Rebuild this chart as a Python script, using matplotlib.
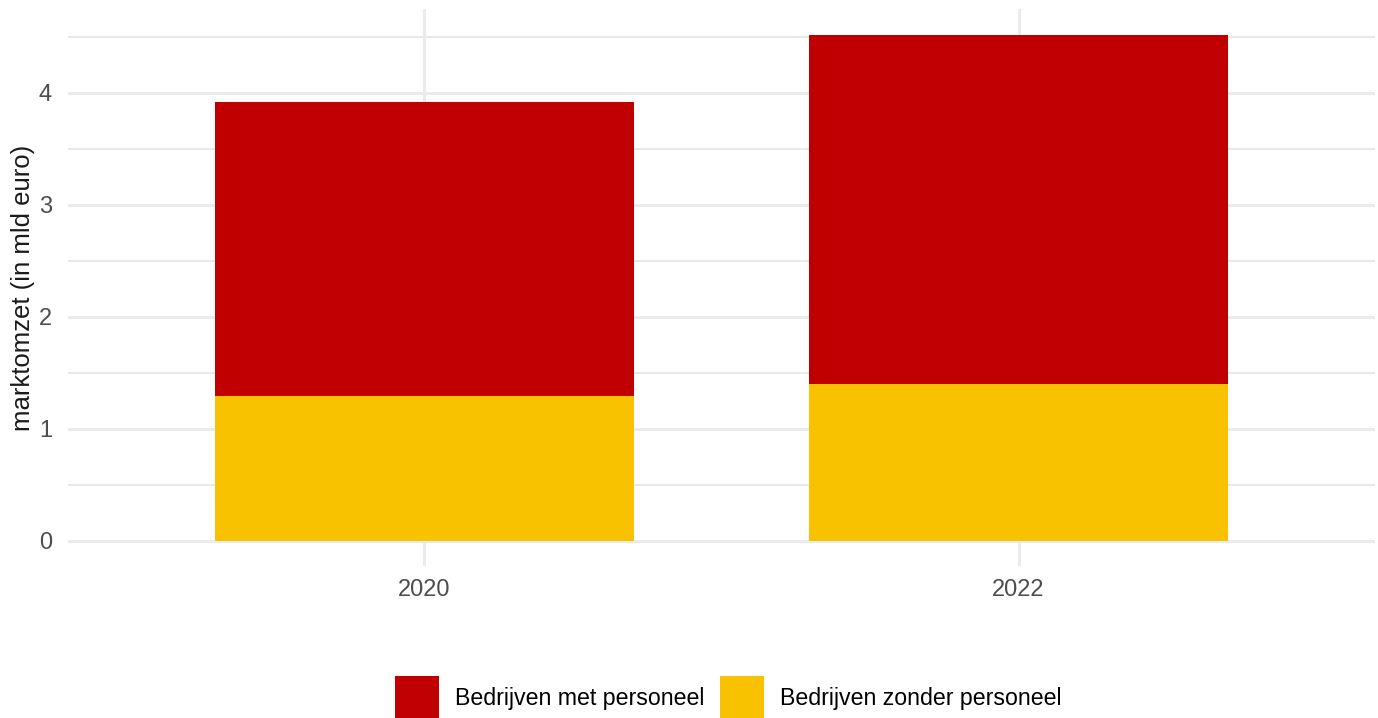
import matplotlib
matplotlib.use("Agg")
import matplotlib.pyplot as plt
from matplotlib.patches import Patch
import numpy as np

years = ["2020", "2022"]
met_personeel = [2.625, 3.12]
zonder_personeel = [1.295, 1.40]
series_labels = ["Bedrijven met personeel", "Bedrijven zonder personeel"]
y_ticks = [0, 1, 2, 3, 4]

RED = "#C00000"
YELLOW = "#F8C200"

plt.rcParams["font.family"] = ["Liberation Sans", "DejaVu Sans"]

W, H = 1378, 718
fig = plt.figure(figsize=(W / 100, H / 100), dpi=100)

ax_left, ax_right = 68, 1375
top_px, bot_px = 9.4, 566.3
ax = fig.add_axes([ax_left / W, (H - bot_px) / H, (ax_right - ax_left) / W, (bot_px - top_px) / H])

x = np.arange(1, len(years) + 1)
ax.bar(x, zonder_personeel, width=0.705, color=YELLOW, zorder=3)
ax.bar(x, met_personeel, width=0.705, bottom=zonder_personeel, color=RED, zorder=3)

total_max = max(a + b for a, b in zip(met_personeel, zonder_personeel))
pad = 0.05 * total_max
ax.set_ylim(-pad, total_max + pad)
ax.set_xlim(0.4, len(years) + 0.6)

ax.set_xticks(x)
ax.set_xticklabels(years)
ax.set_yticks(y_ticks)

for v in y_ticks:
    ax.axhline(v, color="#EBEBEB", lw=2.2, zorder=1)
for v in y_ticks:
    ax.axhline(v + 0.5, color="#E2E2E2", lw=1.1, zorder=1)
for xv in x:
    ax.axvline(xv, color="#EBEBEB", lw=2.2, zorder=1)

for s in ax.spines.values():
    s.set_visible(False)
ax.tick_params(axis="both", which="both", length=0, labelsize=17, colors="#4D4D4D")
ax.tick_params(axis="x", pad=9)
ax.tick_params(axis="y", pad=11.5)

ax.set_ylabel("marktomzet (in mld euro)", fontsize=18.5, color="#1A1A1A", labelpad=3)

handles = [Patch(facecolor=RED, edgecolor="none"), Patch(facecolor=YELLOW, edgecolor="none")]
fig.legend(handles, series_labels, loc="upper center", bbox_to_anchor=(728 / W, (H - 676) / H),
           ncol=2, frameon=False, fontsize=16.7, handlelength=1.9, handleheight=2.5,
           handletextpad=0.68, columnspacing=0.68, borderpad=0, borderaxespad=0)

fig.savefig("out.png", dpi=100)
